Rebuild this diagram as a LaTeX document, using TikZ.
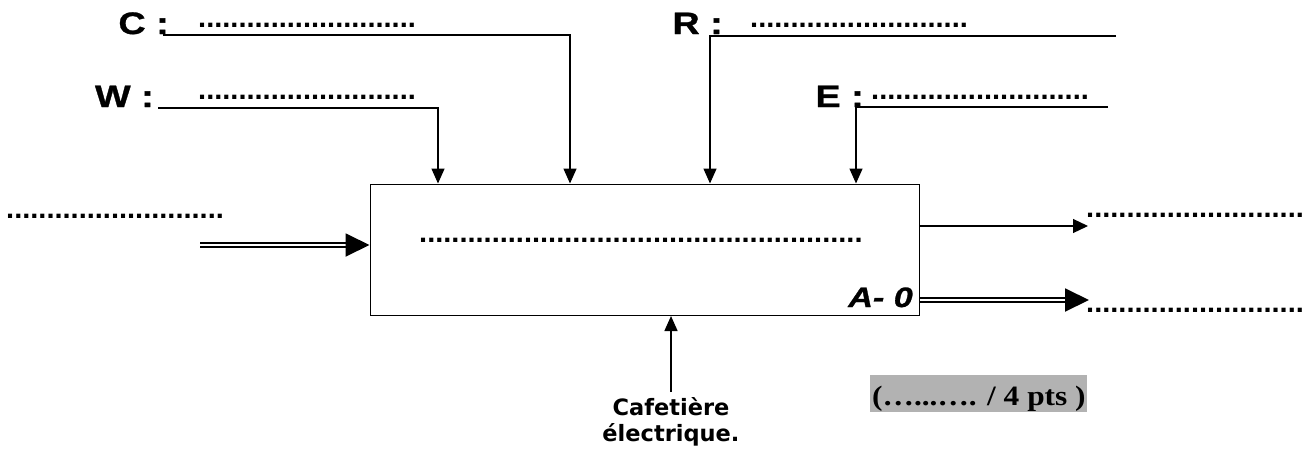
\documentclass[tikz,border=0pt]{standalone}
\usepackage{fontspec}
\setmainfont{Liberation Sans}
\newfontfamily\widefont{Liberation Sans}[FakeStretch=1.22,FakeBold=1]
\newfontfamily\verdfont{DejaVu Sans}
\newfontfamily\tmsfont{Liberation Serif}[FakeStretch=1.12]
\usetikzlibrary{arrows.meta}
\definecolor{greybox}{RGB}{178,178,178}
\begin{document}
\begin{tikzpicture}[x=1pt,y=-1pt,
  lbl/.style={inner sep=0pt,font=\widefont\fontsize{31}{36}\selectfont\bfseries},
  dotrow/.style={inner sep=0pt,anchor=base west,font=\fontsize{29}{34}\selectfont\bfseries},
  ctrl/.style={line width=1.5pt,-{Triangle[length=15pt,width=13pt]}},
  dbl/.style={double,double distance=2.6pt,line width=1.9pt,-{Triangle[length=24pt,width=23pt,fill=black]}},
  single/.style={line width=1.2pt,-{Triangle[length=15pt,width=14pt]}}]
\useasboundingbox (0,0) rectangle (1308,450);
% main box
\node[draw,line width=1.5pt,minimum width=549pt,minimum height=131pt,anchor=north west,inner sep=0pt] (box) at (369.5,183.5) {};
% labels
\node[lbl,anchor=base east] (C) at (169,34) {C :};
\node[lbl,anchor=base east] (W) at (154,107) {W :};
\node[lbl,anchor=base east] (R) at (723,34) {R :};
\node[lbl,anchor=base east] (E) at (864,107) {E :};
% dotted blanks
\node[dotrow] (dC) at (198,27) {...........................};
\node[dotrow] (dW) at (198,99) {...........................};
\node[dotrow] (dR) at (750,27) {...........................};
\node[dotrow] (dE) at (871,99) {...........................};
\node[dotrow] (dIn) at (6,218) {...........................};
\node[dotrow] (dMid) at (419,242) {.......................................................};
\node[dotrow] (dO1) at (1086,217) {...........................};
\node[dotrow] (dO2) at (1086,312) {...........................};
% control / mechanism lines
\coordinate (c0) at (163,35);
\coordinate (c1) at (570,35);
\coordinate (w0) at (158,108);
\coordinate (w1) at (438,108);
\coordinate (r0) at (1116,36);
\coordinate (r1) at (710,36);
\coordinate (e0) at (1108,107);
\coordinate (e1) at (856,107);
\draw[ctrl] (c0) -- (c1) -- (c1 |- box.north);
\draw[ctrl] (w0) -- (w1) -- (w1 |- box.north);
\draw[ctrl] (r0) -- (r1) -- (r1 |- box.north);
\draw[ctrl] (e0) -- (e1) -- (e1 |- box.north);
% input
\coordinate (in0) at (200,245);
\draw[dbl] (in0) -- (in0 -| box.west);
% outputs
\coordinate (o1) at (1088,226);
\coordinate (o2) at (1089,300);
\draw[single] (o1 -| box.east) -- (o1);
\draw[dbl] (o2 -| box.east) -- (o2);
% mechanism
\coordinate (m0) at (671,392);
\draw[ctrl] (m0) -- (m0 |- box.south);
\node[inner sep=0pt,align=center,font=\verdfont\fontsize{22.5}{26}\selectfont\bfseries,anchor=base] (mech) at (671,441) {Cafetière\\électrique.};
% A-0
\node[inner sep=0pt,anchor=base east,font=\widefont\fontsize{28}{34}\selectfont\bfseries\itshape] (A0) at (913,307) {A- 0};
% score box
\node[fill=greybox,inner sep=0pt,minimum width=217pt,minimum height=37pt,anchor=north west] (score) at (870,375) {};
\node[inner sep=0pt,anchor=base west,font=\tmsfont\fontsize{28}{32}\selectfont\bfseries] (scoretxt) at (872,405) {(…...…. / 4 pts )};
\end{tikzpicture}
\end{document}
